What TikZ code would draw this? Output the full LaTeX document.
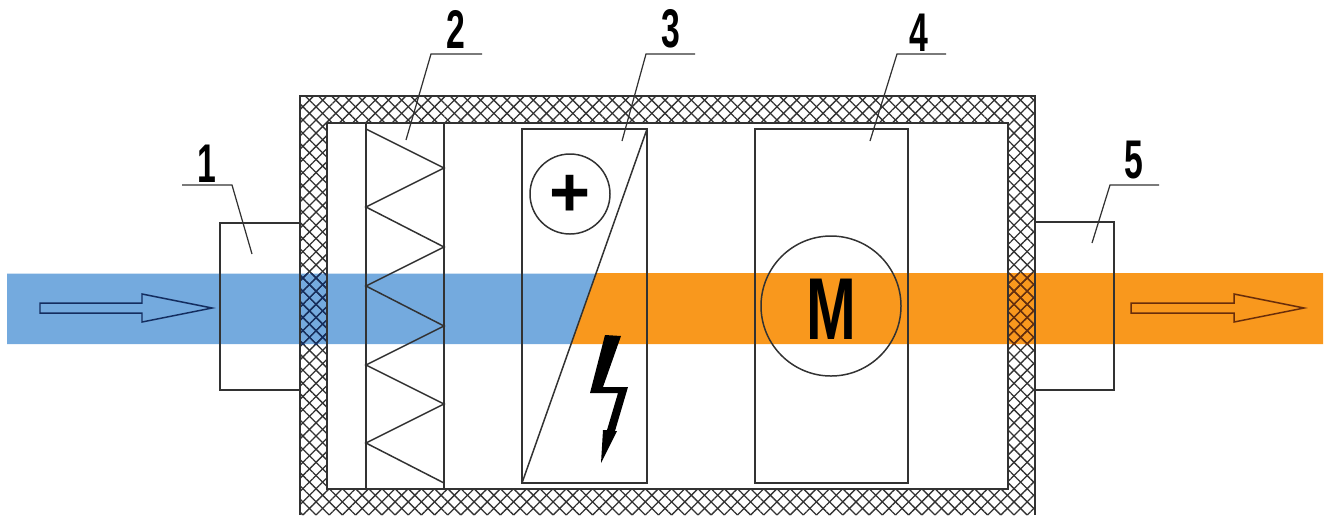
\documentclass[tikz,border=0pt]{standalone}
\usepackage{fontspec}
\setsansfont{Liberation Sans}
\usetikzlibrary{patterns.meta}
\definecolor{coldair}{RGB}{116,170,222}
\definecolor{hotair}{RGB}{249,152,29}
\definecolor{partline}{RGB}{50,50,50}
\definecolor{coldline}{RGB}{20,45,95}
\definecolor{hotline}{RGB}{105,45,10}
\tikzset{
  part/.style={draw=partline,line width=0.85pt},
  leader/.style={draw=partline,line width=0.7pt},
  wallhatch/.style={pattern={Lines[angle=45,distance=5.3pt,line width=0.75pt]},pattern color=#1},
  wallhatchb/.style={pattern={Lines[angle=-45,distance=5.3pt,line width=0.75pt]},pattern color=#1},
  numlabel/.style={font=\sffamily\bfseries\fontsize{31}{31}\selectfont,xscale=0.62,inner sep=0pt},
}
\begin{document}
\begin{tikzpicture}[x=0.02cm,y=-0.02cm]
\useasboundingbox (0,0) rectangle (1331,515);

% air stream
\fill[coldair] (7,273.5)--(596,273.5)--(571,344)--(7,344)--cycle;
\fill[hotair] (596,273)--(1323,273)--(1323,344)--(571,344)--cycle;

% wall
\fill[wallhatch=partline,even odd rule] (300,96) rectangle (1035,515) (327,123) rectangle (1008,489);
\fill[wallhatchb=partline,even odd rule] (300,96) rectangle (1035,515) (327,123) rectangle (1008,489);
\foreach \wx/\wcol in {300/coldline,1008/hotline} {
  \fill[wallhatch=\wcol] (\wx,273.5) rectangle (\wx+27,344);
  \fill[wallhatchb=\wcol] (\wx,273.5) rectangle (\wx+27,344);
}
\draw[part] (300,515)--(300,96)--(1035,96)--(1035,515);
\draw[part] (327,123) rectangle (1008,489);

% inlet and outlet
\draw[part] (300,223)--(220,223)--(220,390)--(300,390);
\draw[part] (1035,222)--(1114,222)--(1114,390)--(1035,390);

% filter
\draw[part] (366,123)--(366,489);
\draw[part] (444,123)--(444,489);
\draw[part] (366,129)--(444,168)--(366,207)--(444,247)--(366,286)--(444,326)
  --(366,365)--(444,404)--(366,443)--(444,483);

% heater
\draw[part] (522,129) rectangle (647,483);
\draw[part] (522,483)--(647,129);
\draw[part] (570,194) circle (40);
\node[font=\sffamily\bfseries\fontsize{40}{40}\selectfont,inner sep=0pt] (plus) at (570,196) {+};
\fill[black] (605,335)--(621,336)--(603,387)--(628,387)--(615,431)--(617,431)--(601,463)
  --(603,430)--(607,430)--(618,393)--(590,393)--cycle;

% motor
\draw[part] (755,129) rectangle (908,483);
\draw[part] (831,306) circle (70);
\node[font=\sffamily\bfseries\fontsize{50}{50}\selectfont,xscale=0.68,inner sep=0pt] (motor) at (831,309) {M};

% flow arrows
\draw[draw=coldline,line width=0.85pt] (40,303)--(142,303)--(142,294)--(212,308)--(142,322)--(142,313)--(40,313)--cycle;
\draw[draw=hotline,line width=0.85pt] (1131,303)--(1234,303)--(1234,294)--(1304,308)--(1234,322)--(1234,313)--(1131,313)--cycle;

% leaders
\draw[leader] (182,185)--(232,185)--(252,254);
\draw[leader] (482,54)--(431,54)--(406,140);
\draw[leader] (695,54)--(646,54)--(622,141);
\draw[leader] (946,54)--(897,54)--(870,141);
\draw[leader] (1159,185)--(1110,185)--(1092,243);

\node[numlabel] (n1) at (207,164) {1};
\node[numlabel] (n2) at (456,29) {2};
\node[numlabel] (n3) at (671,29) {3};
\node[numlabel] (n4) at (919,33) {4};
\node[numlabel] (n5) at (1134,160) {5};
\end{tikzpicture}
\end{document}
